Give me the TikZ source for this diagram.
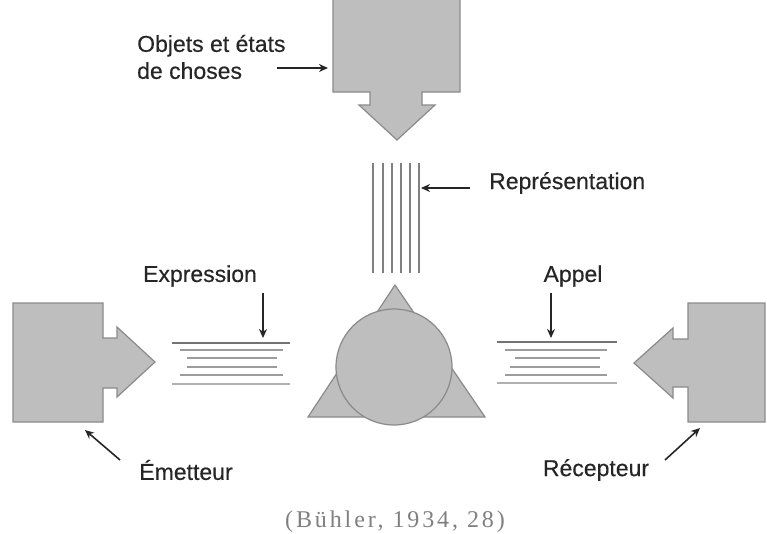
\documentclass[tikz,border=0pt]{standalone}
\usepackage{fontspec}
\setmainfont{Liberation Sans}[FakeBold=0.4]
\newfontfamily\captionfont[LetterSpace=12]{Liberation Serif}
\usepackage{tikz}
\usepackage{xcolor}
\usetikzlibrary{arrows.meta}
\definecolor{blockgray}{HTML}{BEBEBE}
\definecolor{edgegray}{HTML}{8A8A8A}
\definecolor{inkgray}{HTML}{262626}
\definecolor{linegray}{HTML}{9C9C9C}

\begin{document}
\begin{tikzpicture}[x=1pt, y=-1pt,
    block/.style={fill=blockgray, draw=edgegray, line width=1.2pt},
    label/.style={text=inkgray, font=\fontsize{23}{27}\selectfont, inner sep=0pt},
    pointer/.style={-{Stealth[length=9pt, width=8pt]}, line width=1.6pt, draw=inkgray},
    strand/.style={line width=1.5pt, draw=linegray}]
  \useasboundingbox (0,0) rectangle (767,533);

  % object block, top
  \draw[block] (333,-2) -- (460,-2) -- (460,92) -- (422,92) -- (422,105) -- (435,105)
    -- (397,140) -- (359,105) -- (370,105) -- (370,92) -- (333,92) -- cycle;
  % sender block, left
  \draw[block] (13,303) -- (103,303) -- (103,338) -- (117,338) -- (117,327) -- (155,362)
    -- (117,397) -- (117,388) -- (103,388) -- (103,422) -- (13,422) -- cycle;
  % receiver block, right
  \draw[block] (765,303) -- (688,303) -- (688,339) -- (673,339) -- (673,328) -- (634,363)
    -- (673,398) -- (673,387) -- (688,387) -- (688,422) -- (765,422) -- cycle;

  % sign: triangle and circle
  \draw[block] (395,285) -- (485,417) -- (308,417) -- cycle;
  \draw[block] (394,367) circle (58);

  % representation strands
  \foreach \x in {373,383,392,401,410,419}
    \draw[strand, draw=gray] (\x,163) -- (\x,273);
  % expression strands
  \draw[strand, draw=gray!90!black] (172,343) -- (290,343);
  \draw[strand] (180,350) -- (283,350);
  \draw[strand] (187,358) -- (277,358);
  \draw[strand] (187,367) -- (277,367);
  \draw[strand] (180,375) -- (283,375);
  \draw[strand, line width=2pt, draw=linegray!80] (172,384) -- (290,384);
  % appeal strands
  \draw[strand, draw=gray!90!black] (497,342) -- (617,342);
  \draw[strand] (505,350) -- (607,350);
  \draw[strand] (515,358) -- (600,358);
  \draw[strand] (510,367) -- (600,367);
  \draw[strand] (505,375) -- (607,375);
  \draw[strand, line width=2pt, draw=linegray!80] (497,383) -- (617,383);

  % labels
  \node[label, anchor=west, align=left] (objets) at (137,57) {Objets et états\\de choses};
  \node[label, anchor=west] (repres) at (489,183) {Représentation};
  \node[label] (expr) at (200,276) {Expression};
  \node[label] (appel) at (573,276) {Appel};
  \node[label] (emet) at (186,470) {Émetteur};
  \node[label] (recep) at (596,470) {Récepteur};
  \node[text=gray, font=\captionfont\fontsize{24}{28}\selectfont, inner sep=0pt] (source)
    at (395,522) {(Bühler, 1934, 28)};

  % pointers
  \coordinate (objtail) at (277,68);   \coordinate (objtip) at (328,68);
  \coordinate (reptail) at (470,188);  \coordinate (reptip) at (421,188);
  \coordinate (exptail) at (263,293);  \coordinate (exptip) at (263,338);
  \coordinate (apptail) at (551,293);  \coordinate (apptip) at (551,338);
  \coordinate (emtail) at (120,460);   \coordinate (emtip) at (85,430);
  \coordinate (rectail) at (665,460);  \coordinate (rectip) at (700,428);
  \draw[pointer] (objtail) -- (objtip);
  \draw[pointer] (reptail) -- (reptip);
  \draw[pointer] (exptail) -- (exptip);
  \draw[pointer] (apptail) -- (apptip);
  \draw[pointer] (emtail) -- (emtip);
  \draw[pointer] (rectail) -- (rectip);
\end{tikzpicture}
\end{document}
